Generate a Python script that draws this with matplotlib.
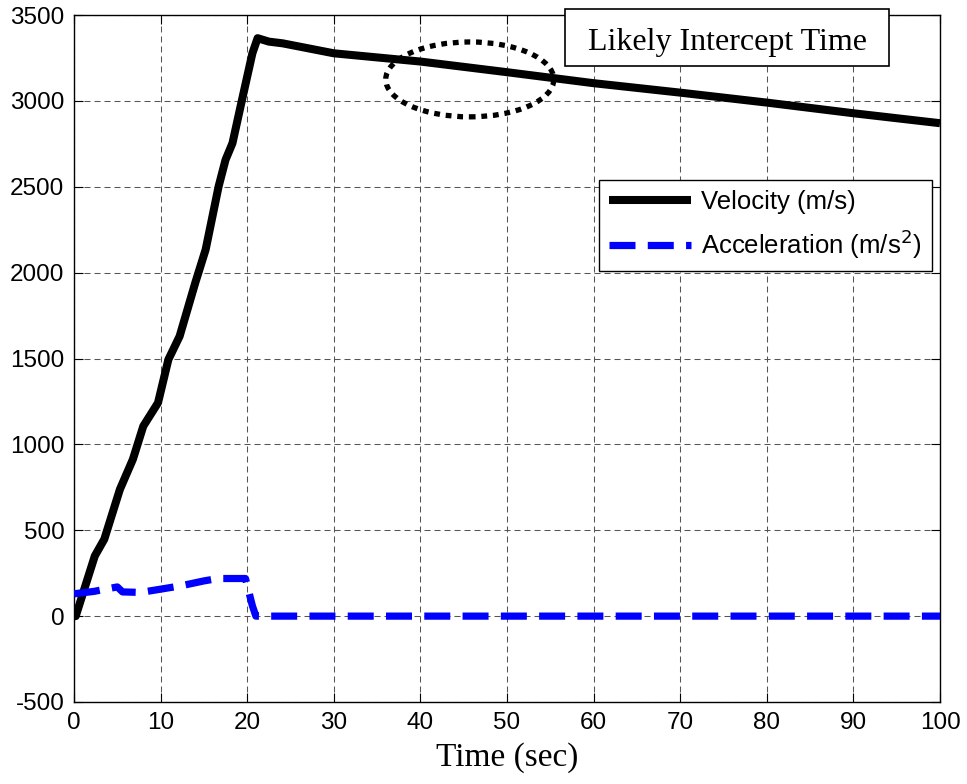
import matplotlib
matplotlib.use("Agg")
import matplotlib.pyplot as plt
from matplotlib.patches import Ellipse, Rectangle

# ---- data ----
t_vel = [0, 0.2, 2.4, 3.5, 5.3, 6.8, 8.0, 9.7, 10.9, 12.2, 14.0, 15.2, 16.7, 17.5,
         18.3, 19.4, 20.6, 21.2, 22.5, 24.1, 30, 40, 50, 60, 70, 80, 90, 100]
velocity = [0, 0, 350, 448, 738, 913, 1106, 1242, 1494, 1630, 1940, 2134, 2502, 2657,
            2754, 3006, 3277, 3365, 3345, 3335, 3277, 3229, 3167, 3103, 3048, 2990, 2928, 2870]

t_acc = [0, 2.3, 5.0, 5.6, 7.7, 10.0, 12.3, 15.0, 16.6, 19.8, 20.6, 21.0, 100]
acceleration = [130, 144, 170, 141, 138, 157, 176, 205, 219, 219, 60, 0, 0]

x_ticks = [0, 10, 20, 30, 40, 50, 60, 70, 80, 90, 100]
y_ticks = [-500, 0, 500, 1000, 1500, 2000, 2500, 3000, 3500]

labels = ["Velocity (m/s)", "Acceleration (m/s$^2$)"]
x_label = "Time (sec)"
annotation = "Likely Intercept Time"
ellipse_center = (45.7, 3125)
ellipse_size = (19.4, 436)

# ---- figure ----
W, H = 967, 784
fig = plt.figure(figsize=(W / 100, H / 100), dpi=100)
ax = fig.add_axes([74 / W, 1 - 702 / H, (940 - 74) / W, (702 - 15) / H])

sans = "Liberation Sans"
serif = "Liberation Serif"

ax.plot(t_vel, velocity, color="black", lw=5.8, solid_joinstyle="round",
        solid_capstyle="butt", label=labels[0], zorder=3)
ax.plot(t_acc, acceleration, color="#0000ff", lw=5.2, dashes=(3.6, 1.7),
        dash_capstyle="butt", label=labels[1], zorder=4)

ell = Ellipse(ellipse_center, ellipse_size[0], ellipse_size[1], fill=False,
              edgecolor="black", lw=3.8, linestyle=(0, (1.1, 1.1)), zorder=5)
ax.add_patch(ell)

ax.set_xlim(0, 100)
ax.set_ylim(-500, 3500)
ax.set_xticks(x_ticks)
ax.set_yticks(y_ticks)
ax.set_xticklabels([str(v) for v in x_ticks], fontfamily=sans, fontsize=17.5)
ax.set_yticklabels([str(v) for v in y_ticks], fontfamily=sans, fontsize=17.5)
ax.tick_params(direction="in", length=6.5, width=0.8, top=True, right=True, pad=7)

ax.grid(True, color="#555555", lw=0.75, linestyle=(0, (5.8, 3.8)))
ax.set_axisbelow(True)
for s in ax.spines.values():
    s.set_linewidth(1.0)

ax.set_xlabel(x_label, fontfamily=serif, fontsize=24, labelpad=6)

leg = ax.legend(loc="upper right", bbox_to_anchor=(0.9908, 0.76), borderaxespad=0,
                prop={"family": sans, "size": 18.5}, fancybox=False, framealpha=1,
                edgecolor="black", handlelength=3.2, handletextpad=0.4,
                labelspacing=0.5, borderpad=0.4)
leg.get_frame().set_linewidth(1.0)

# annotation box
x0 = (565 - 74) / 866
x1 = (889 - 74) / 866
y0 = (702 - 66) / 687
y1 = (702 - 9) / 687
ax.add_patch(Rectangle((x0, y0), x1 - x0, y1 - y0, transform=ax.transAxes,
                       facecolor="white", edgecolor="black", lw=1.2,
                       clip_on=False, zorder=6))
ax.text((x0 + x1) / 2, (702 - 50) / 687, annotation, transform=ax.transAxes,
        ha="center", va="baseline", fontfamily=serif, fontsize=23, zorder=7)

fig.savefig("out.png", dpi=100)
